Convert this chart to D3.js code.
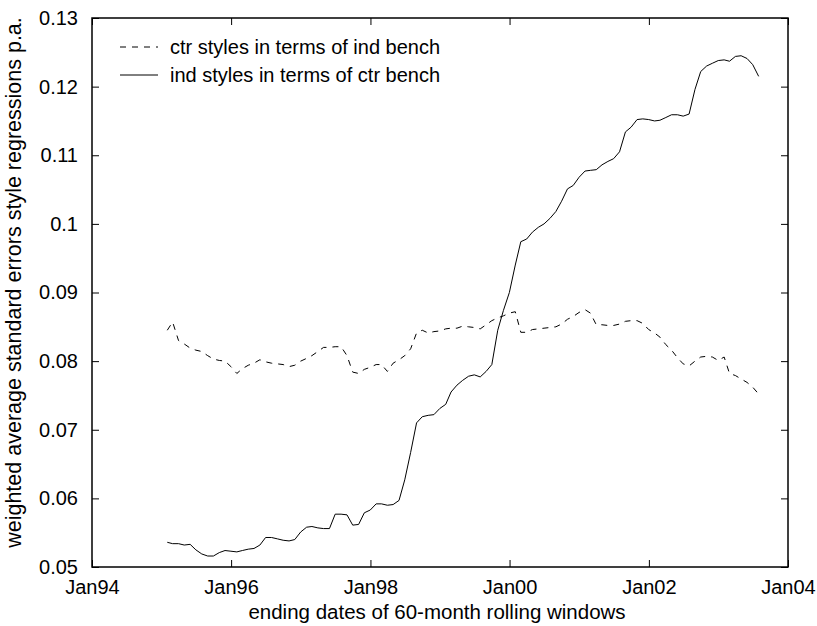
<!DOCTYPE html>
<html>
<head>
<meta charset="utf-8">
<script src="https://cdn.jsdelivr.net/npm/d3@7"></script>
<style>
  html, body { margin: 0; padding: 0; background: #fff; }
  svg { display: block; }
  text { font-family: "Liberation Sans", Arial, sans-serif; fill: #000; }
</style>
</head>
<body>
<svg id="chart" width="817" height="626"></svg>
<script>
// Monthly window end dates: 31-Jan-1995 ... 31-Jul-2003 (103 windows)
const windowEnds = d3.utcMonth
  .range(new Date(Date.UTC(1995, 1, 1)), new Date(Date.UTC(2003, 8, 1)))
  .map(d => d3.utcDay.offset(d, -1));

// ctr styles in terms of ind bench
const ctrValues = [
  0.0845, 0.0857, 0.0830, 0.0825, 0.0819, 0.0816, 0.0814, 0.0808, 0.0803, 0.0801,
  0.0800, 0.0792, 0.0782, 0.0789, 0.0794, 0.0797, 0.0802, 0.0799, 0.0797, 0.0796,
  0.0795, 0.0792, 0.0794, 0.0800, 0.0804, 0.0808, 0.0814, 0.0820, 0.0820, 0.0821,
  0.0821, 0.0808, 0.0784, 0.0782, 0.0788, 0.0791, 0.0795, 0.0795, 0.0785, 0.0797,
  0.0802, 0.0808, 0.0818, 0.0841, 0.0845, 0.0841, 0.0843, 0.0844, 0.0847, 0.0848,
  0.0848, 0.0851, 0.0850, 0.0849, 0.0847, 0.0853, 0.0859, 0.0863, 0.0866, 0.0870,
  0.0872, 0.0842, 0.0842, 0.0846, 0.0847, 0.0848, 0.0849, 0.0850, 0.0854, 0.0861,
  0.0865, 0.0871, 0.0875, 0.0870, 0.0853, 0.0853, 0.0852, 0.0852, 0.0854, 0.0858,
  0.0859, 0.0859, 0.0855, 0.0846, 0.0841, 0.0835, 0.0824, 0.0816, 0.0805, 0.0796,
  0.0793, 0.0800, 0.0806, 0.0807, 0.0806, 0.0801, 0.0806, 0.0782, 0.0779, 0.0774,
  0.0769, 0.0762, 0.0752
];

// ind styles in terms of ctr bench
const indValues = [
  0.0536, 0.0534, 0.0534, 0.0532, 0.0533, 0.0525, 0.0519, 0.0516, 0.0516, 0.0521,
  0.0524, 0.0523, 0.0522, 0.0524, 0.0526, 0.0527, 0.0532, 0.0543, 0.0543, 0.0541,
  0.0539, 0.0538, 0.0540, 0.0551, 0.0558, 0.0559, 0.0557, 0.0556, 0.0556, 0.0577,
  0.0577, 0.0576, 0.0561, 0.0562, 0.0579, 0.0583, 0.0592, 0.0592, 0.0590, 0.0591,
  0.0597, 0.0627, 0.0667, 0.0710, 0.0719, 0.0721, 0.0722, 0.0731, 0.0737, 0.0755,
  0.0765, 0.0772, 0.0778, 0.0780, 0.0777, 0.0785, 0.0795, 0.0845, 0.0874, 0.0900,
  0.0940, 0.0974, 0.0978, 0.0988, 0.0995, 0.1000, 0.1008, 0.1018, 0.1033, 0.1051,
  0.1056, 0.1068, 0.1077, 0.1078, 0.1079, 0.1086, 0.1091, 0.1095, 0.1105, 0.1134,
  0.1141, 0.1152, 0.1153, 0.1152, 0.1150, 0.1151, 0.1155, 0.1159, 0.1159, 0.1157,
  0.1160, 0.1196, 0.1222, 0.1230, 0.1234, 0.1238, 0.1239, 0.1237, 0.1244, 0.1245,
  0.1241, 0.1232, 0.1215
];

const xTickYears = [1994, 1996, 1998, 2000, 2002, 2004];
const xTickLabels = ["Jan94", "Jan96", "Jan98", "Jan00", "Jan02", "Jan04"];
const yTickValues = [0.05, 0.06, 0.07, 0.08, 0.09, 0.10, 0.11, 0.12, 0.13];
const yTickLabels = ["0.05", "0.06", "0.07", "0.08", "0.09", "0.1", "0.11", "0.12", "0.13"];
const seriesNames = ["ctr styles in terms of ind bench", "ind styles in terms of ctr bench"];

const xTickDates = xTickYears.map(yr => new Date(Date.UTC(yr, 0, 1)));

const svg = d3.select("#chart");
const plot = { left: 92, right: 788, top: 18, bottom: 567 };
const tickLen = 7;
const fontSize = 20;

const x = d3.scaleUtc()
  .domain([xTickDates[0], xTickDates[xTickDates.length - 1]])
  .range([plot.left, plot.right]);
const y = d3.scaleLinear().domain([0.05, 0.13]).range([plot.bottom, plot.top]);

// axes: ticks pointing inward on all four sides, boxed plot
const xBottom = d3.axisBottom(x).tickValues(xTickDates).tickSizeInner(-tickLen).tickSizeOuter(0)
  .tickPadding(13).tickFormat((d, i) => xTickLabels[i]);
const xTop = d3.axisTop(x).tickValues(xTickDates).tickSizeInner(-tickLen).tickSizeOuter(0).tickFormat("");
const yLeft = d3.axisLeft(y).tickValues(yTickValues).tickSizeInner(-tickLen).tickSizeOuter(0)
  .tickPadding(14).tickFormat((d, i) => yTickLabels[i]);
const yRight = d3.axisRight(y).tickValues(yTickValues).tickSizeInner(-tickLen).tickSizeOuter(0).tickFormat("");

function styleAxis(g) {
  g.select(".domain").remove();
  g.selectAll(".tick line").attr("stroke", "#000").attr("stroke-width", 1);
  g.selectAll(".tick text")
    .attr("font-family", "'Liberation Sans', Arial, sans-serif")
    .attr("font-size", fontSize).attr("fill", "#000");
}

svg.append("g").attr("transform", `translate(0,${plot.bottom})`).call(xBottom).call(styleAxis);
svg.append("g").attr("transform", `translate(0,${plot.top})`).call(xTop).call(styleAxis);
svg.append("g").attr("transform", `translate(${plot.left},0)`).call(yLeft).call(styleAxis);
svg.append("g").attr("transform", `translate(${plot.right},0)`).call(yRight).call(styleAxis);

// plot box
svg.append("rect")
  .attr("x", plot.left).attr("y", plot.top)
  .attr("width", plot.right - plot.left).attr("height", plot.bottom - plot.top)
  .attr("fill", "none").attr("stroke", "#000").attr("stroke-width", 1.5);

// series lines
const line = d3.line().x((d, i) => x(windowEnds[i])).y(d => y(d));

svg.append("path")
  .datum(ctrValues)
  .attr("d", line)
  .attr("fill", "none").attr("stroke", "#000").attr("stroke-width", 1)
  .attr("stroke-dasharray", "6,6");

svg.append("path")
  .datum(indValues)
  .attr("d", line)
  .attr("fill", "none").attr("stroke", "#000").attr("stroke-width", 1);

// legend
const legend = svg.append("g");
const legendRows = [
  { name: seriesNames[0], dash: "6,6", ly: 47 },
  { name: seriesNames[1], dash: null, ly: 75 }
];
legendRows.forEach(r => {
  legend.append("line")
    .attr("x1", 120).attr("x2", 158).attr("y1", r.ly).attr("y2", r.ly)
    .attr("stroke", "#000").attr("stroke-width", 1)
    .attr("stroke-dasharray", r.dash);
  legend.append("text")
    .attr("x", 170).attr("y", r.ly).attr("dy", "0.35em")
    .attr("font-size", fontSize)
    .text(r.name);
});

// axis titles
svg.append("text")
  .attr("x", 437).attr("y", 619)
  .attr("text-anchor", "middle").attr("font-size", 20.5)
  .text("ending dates of 60-month rolling windows");

svg.append("text")
  .attr("transform", `translate(21,${(plot.top + plot.bottom) / 2 - 10}) rotate(-90)`)
  .attr("text-anchor", "middle").attr("font-size", 21.5)
  .text("weighted average standard errors style regressions p.a.");
</script>
</body>
</html>
